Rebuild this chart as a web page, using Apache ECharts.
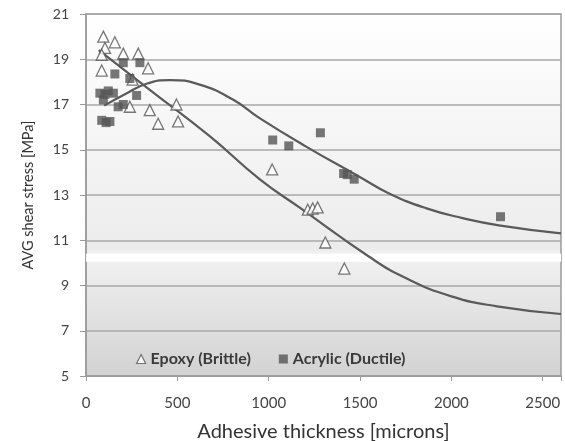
<!DOCTYPE html>
<html>
<head>
<meta charset="utf-8">
<script src="https://cdn.jsdelivr.net/npm/echarts@6/dist/echarts.min.js"></script>
<style>html,body{margin:0;padding:0;background:#fff}#c{width:565px;height:441px}</style>
</head>
<body>
<div id="c"></div>
<script>
// Data
const epoxyPoints = [
  [95,20.0],[158,19.75],[104,19.5],[86,19.2],[204,19.25],[286,19.25],[86,18.5],[340,18.6],
  [255,18.1],[240,16.9],[349,16.75],[495,17.0],[395,16.15],[504,16.25],
  [1019,14.13],[1214,12.35],[1241,12.4],[1268,12.45],[1310,10.9],[1414,9.75]
];
const acrylicPoints = [
  [76,17.5],[95,17.2],[104,17.45],[122,17.6],[86,16.3],[110,16.2],[131,16.25],[176,16.9],
  [204,17.0],[158,18.35],[240,18.15],[204,18.85],[295,18.85],[277,17.4],[150,17.5],
  [1022,15.43],[1110,15.17],[1283,15.75],[1410,13.95],[1430,13.9],[1468,13.7],[2269,12.04]
];
const epoxyFit = [[70,19.4],[349,17.65],[677,15.6],[950,13.7],[1168,12.45],[1550,10.27],[1750,9.33],[2000,8.52],[2250,8.08],[2600,7.74]];
const acrylicFit = [[100,16.95],[213,17.45],[331,17.92],[459,18.08],[622,17.88],[804,17.22],[950,16.4],[1205,15.14],[1496,13.81],[1659,13.07],[1860,12.42],[2060,11.98],[2260,11.66],[2600,11.3]];
const xName = 'Adhesive thickness [microns]';
const yName = 'AVG shear stress [MPa]';
const legendNames = ['Epoxy (Brittle)','Acrylic (Ductile)'];
const whiteBand = [10.05, 10.4];

const chart = echarts.init(document.getElementById('c'));
const font = 'Lato, Open Sans, sans-serif';
chart.setOption({
  animation:false,
  backgroundColor:'#fff',
  grid:{left:86,right:4,top:14,bottom:65,outerBoundsMode:'none',containLabel:false,show:true,borderColor:'#9a9a9a',borderWidth:1.5,
    backgroundColor:new echarts.graphic.LinearGradient(0,0,0,1,[
      {offset:0,color:'#ffffff'},{offset:0.65,color:'#ececec'},{offset:0.66,color:'#f2f2f2'},{offset:1,color:'#d2d2d2'}])},
  legend:{
    data:[{name:legendNames[0],icon:'triangle',itemStyle:{color:'#fff',borderColor:'#555',borderWidth:1.2}},
          {name:legendNames[1],icon:'rect'}],
    left:131,top:346,itemWidth:9,itemHeight:9,itemGap:28,
    textStyle:{fontFamily:font,fontSize:16,fontWeight:'bold',color:'#3a3a3a'}
  },
  xAxis:{type:'value',min:0,max:2600,interval:500,
    name:xName,nameLocation:'middle',nameGap:46,
    nameTextStyle:{fontFamily:font,fontSize:20,color:'#333'},
    axisLine:{show:true,lineStyle:{color:'#9a9a9a',width:1.5}},
    axisTick:{show:true,length:5,lineStyle:{color:'#9a9a9a'}},
    axisLabel:{fontFamily:font,fontSize:15,color:'#444',margin:20,
      formatter:v=> (v%500===0?String(v):'')},
    splitLine:{show:false}},
  yAxis:{type:'value',min:5,max:21,interval:2,
    name:yName,nameLocation:'middle',nameGap:50,
    nameTextStyle:{fontFamily:font,fontSize:14.5,color:'#333'},
    axisLine:{show:true,lineStyle:{color:'#9a9a9a',width:1.5}},
    axisTick:{show:true,length:6,lineStyle:{color:'#9a9a9a'}},
    axisLabel:{fontFamily:font,fontSize:14,color:'#444',margin:17},
    splitLine:{show:true,lineStyle:{color:'#a8a8a8',width:1.5}}},
  series:[
    {name:'band',type:'line',data:[],silent:true,
      markArea:{silent:true,itemStyle:{color:'#ffffff'},data:[[{yAxis:whiteBand[0]},{yAxis:whiteBand[1]}]]}},
    {name:'fitE',type:'line',data:epoxyFit,smooth:0.5,showSymbol:false,silent:true,
      lineStyle:{color:'#5a5a5a',width:2.2},z:3},
    {name:'fitA',type:'line',data:acrylicFit,smooth:0.5,showSymbol:false,silent:true,
      lineStyle:{color:'#5a5a5a',width:2.2},z:3},
    {name:legendNames[0],type:'scatter',data:epoxyPoints,symbol:'triangle',symbolSize:11,
      itemStyle:{color:'#ffffff',borderColor:'#555',borderWidth:1.3},z:4},
    {name:legendNames[1],type:'scatter',data:acrylicPoints,symbol:'rect',symbolSize:9,
      itemStyle:{color:'#555555'},z:5}
  ]
});
</script>
</body>
</html>
